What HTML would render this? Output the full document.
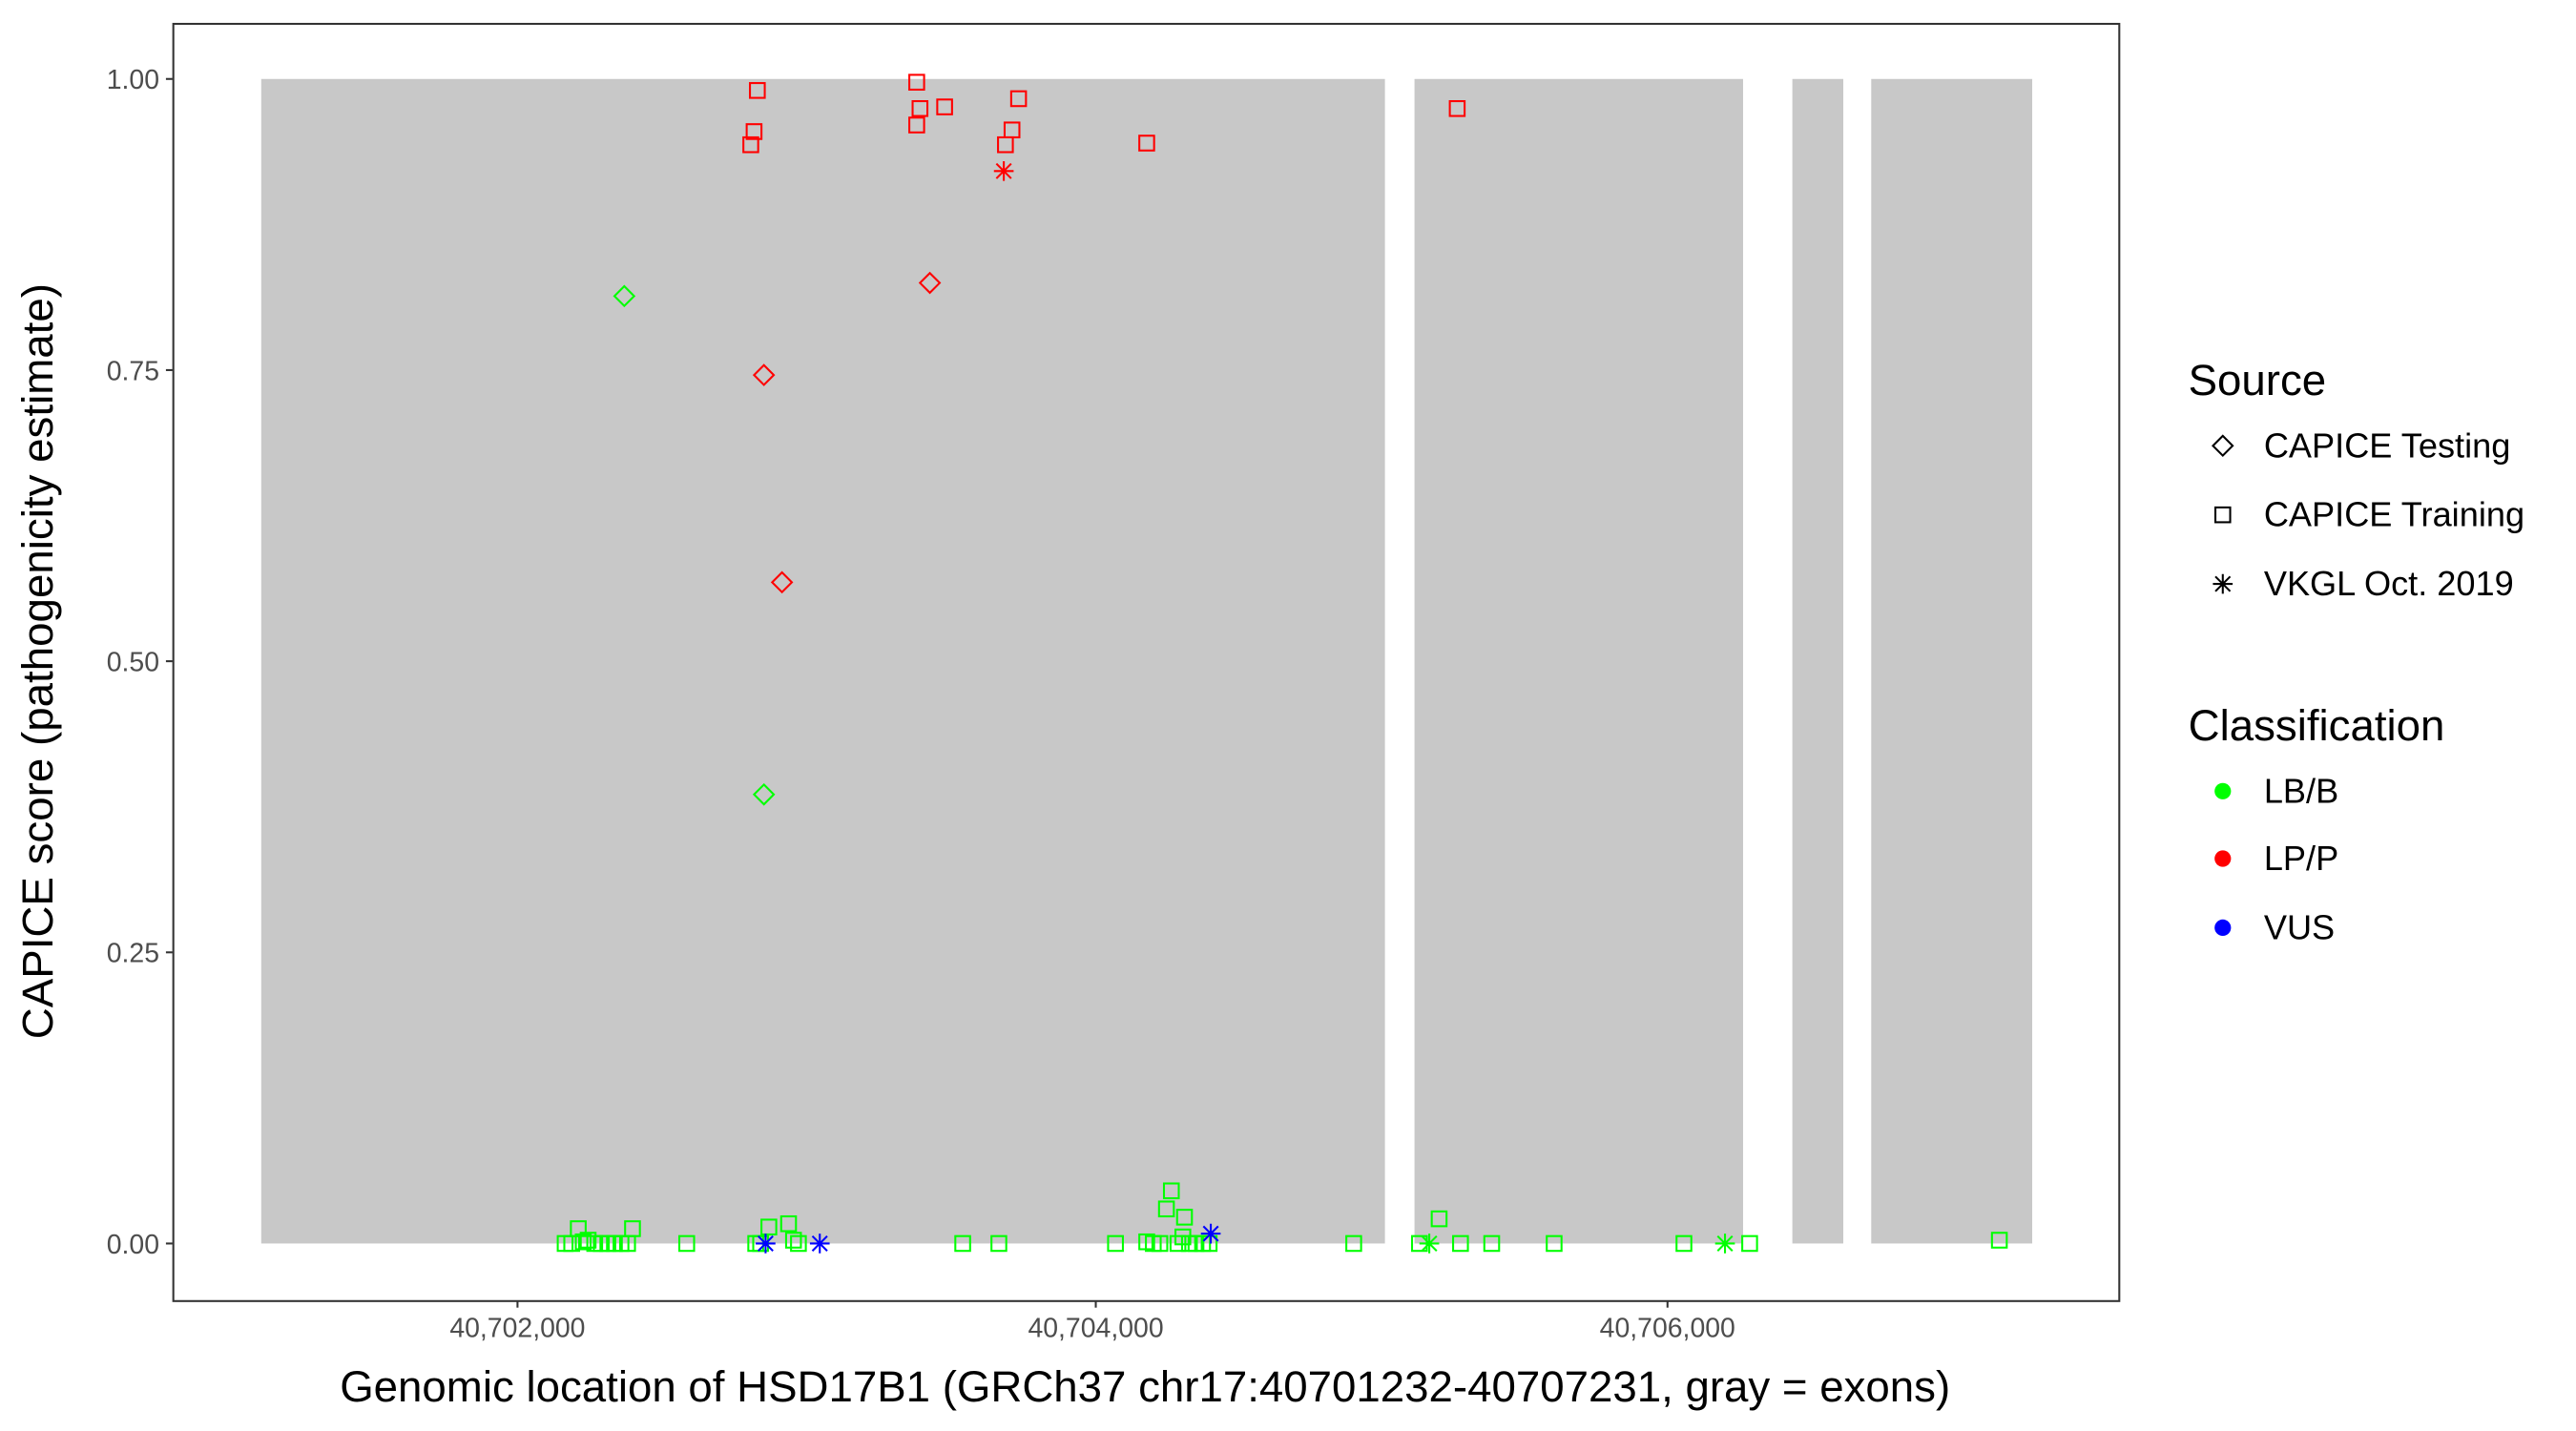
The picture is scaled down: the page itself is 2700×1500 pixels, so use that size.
<!DOCTYPE html>
<html><head><meta charset="utf-8"><style>html,body{margin:0;padding:0;background:#fff}svg{display:block}</style></head>
<body>
<svg width="2700" height="1500" viewBox="0 0 1568 870" preserveAspectRatio="none" xmlns="http://www.w3.org/2000/svg" font-family="Liberation Sans, Arial, sans-serif">
<rect width="1568" height="870" fill="#fff"/>
<g fill="#c8c8c8">
<rect x="159" y="48" width="684" height="708"/>
<rect x="861" y="48" width="200" height="708"/>
<rect x="1091" y="48" width="31" height="708"/>
<rect x="1139" y="48" width="98" height="708"/>
</g>
<rect x="105.5" y="14.5" width="1184.5" height="776.5" fill="none" stroke="#333" stroke-width="1.2"/>
<g stroke="#333" stroke-width="1.2">
<line x1="101" x2="105" y1="48" y2="48"/><line x1="101" x2="105" y1="225" y2="225"/><line x1="101" x2="105" y1="402" y2="402"/><line x1="101" x2="105" y1="579" y2="579"/><line x1="101" x2="105" y1="756" y2="756"/>
<line x1="315" x2="315" y1="791" y2="795"/><line x1="667" x2="667" y1="791" y2="795"/><line x1="1015" x2="1015" y1="791" y2="795"/>
</g>
<g font-size="16.5" fill="#4d4d4d" text-anchor="end">
<text x="97" y="54">1.00</text><text x="97" y="231">0.75</text><text x="97" y="408">0.50</text><text x="97" y="585">0.25</text><text x="97" y="762">0.00</text>
</g>
<g font-size="16.5" fill="#4d4d4d" text-anchor="middle">
<text x="315" y="813">40,702,000</text><text x="667" y="813">40,704,000</text><text x="1015" y="813">40,706,000</text>
</g>
<text x="697" y="852" font-size="26.5" text-anchor="middle">Genomic location of HSD17B1 (GRCh37 chr17:40701232-40707231, gray = exons)</text>
<text transform="translate(32,402) rotate(-90)" font-size="26.5" text-anchor="middle">CAPICE score (pathogenicity estimate)</text>
<defs>
<rect id="sq" x="-4.5" y="-4.5" width="9" height="9" fill="none" stroke-width="1.2"/>
<path id="di" d="M0,-6 L6,0 L0,6 L-6,0 Z" fill="none" stroke-width="1.2"/>
<path id="st" d="M-6,0H6M0,-6V6M-4.5,-4.5L4.5,4.5M-4.5,4.5L4.5,-4.5" stroke-width="1.2"/>
</defs>
<g stroke="#ff0000">
<use href="#sq" x="461" y="55"/><use href="#sq" x="459" y="80"/><use href="#sq" x="457" y="88"/><use href="#sq" x="558" y="50"/><use href="#sq" x="560" y="66"/><use href="#sq" x="558" y="76"/><use href="#sq" x="575" y="65"/><use href="#sq" x="620" y="60"/><use href="#sq" x="616" y="79"/><use href="#sq" x="612" y="88"/><use href="#sq" x="698" y="87"/><use href="#sq" x="887" y="66"/>
<use href="#st" x="611" y="104"/>
<use href="#di" x="566" y="172"/><use href="#di" x="465" y="228"/><use href="#di" x="476" y="354"/>
</g>
<g stroke="#00ff00">
<use href="#di" x="380" y="180"/><use href="#di" x="465" y="483"/>
<use href="#sq" x="344" y="756"/><use href="#sq" x="348" y="756"/><use href="#sq" x="352" y="747"/><use href="#sq" x="355" y="755"/><use href="#sq" x="358" y="754"/><use href="#sq" x="362" y="756"/><use href="#sq" x="366" y="756"/><use href="#sq" x="370" y="756"/><use href="#sq" x="374" y="756"/><use href="#sq" x="378" y="756"/><use href="#sq" x="382" y="756"/><use href="#sq" x="385" y="747"/><use href="#sq" x="418" y="756"/><use href="#sq" x="460" y="756"/><use href="#sq" x="463" y="756"/><use href="#sq" x="468" y="746"/><use href="#sq" x="480" y="744"/><use href="#sq" x="483" y="754"/><use href="#sq" x="486" y="756"/><use href="#sq" x="586" y="756"/><use href="#sq" x="608" y="756"/><use href="#sq" x="679" y="756"/><use href="#sq" x="698" y="755"/><use href="#sq" x="702" y="756"/><use href="#sq" x="706" y="756"/><use href="#sq" x="710" y="735"/><use href="#sq" x="713" y="724"/><use href="#sq" x="717" y="756"/><use href="#sq" x="721" y="740"/><use href="#sq" x="720" y="752"/><use href="#sq" x="724" y="756"/><use href="#sq" x="728" y="756"/><use href="#sq" x="732" y="756"/><use href="#sq" x="736" y="756"/><use href="#sq" x="824" y="756"/><use href="#sq" x="864" y="756"/><use href="#sq" x="876" y="741"/><use href="#sq" x="889" y="756"/><use href="#sq" x="908" y="756"/><use href="#sq" x="946" y="756"/><use href="#sq" x="1025" y="756"/><use href="#sq" x="1065" y="756"/><use href="#sq" x="1217" y="754"/>
<use href="#st" x="870" y="756"/><use href="#st" x="1050" y="756"/>
</g>
<g stroke="#0000ff">
<use href="#st" x="466" y="756"/><use href="#st" x="499" y="756"/><use href="#st" x="737" y="750"/>
</g>
<text x="1332" y="240" font-size="26.5">Source</text>
<g stroke="#000"><use href="#di" x="1353" y="271"/><use href="#sq" x="1353" y="313"/><use href="#st" x="1353" y="355"/></g>
<g font-size="21"><text x="1378" y="278">CAPICE Testing</text><text x="1378" y="320">CAPICE Training</text><text x="1378" y="362">VKGL Oct. 2019</text></g>
<text x="1332" y="450" font-size="26.5">Classification</text>
<circle cx="1353" cy="481" r="5" fill="#00ff00"/><circle cx="1353" cy="522" r="5" fill="#ff0000"/><circle cx="1353" cy="564" r="5" fill="#0000ff"/>
<g font-size="21"><text x="1378" y="488">LB/B</text><text x="1378" y="529">LP/P</text><text x="1378" y="571">VUS</text></g>
</svg>
</body></html>
